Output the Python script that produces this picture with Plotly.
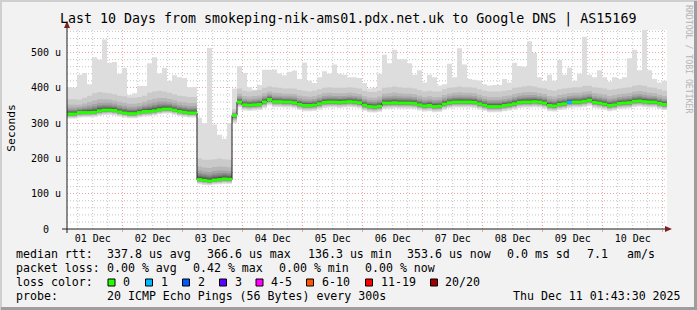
import datetime as dt
import plotly.graph_objects as go

# ---------------- data ----------------
# median rtt per 2-hour bin, microseconds, starting Dec 1 01:43:30
median_us = [326, 326, 330, 330, 330, 331, 335, 337, 337, 336,
             332, 329, 327, 327, 330, 333, 333, 335, 338, 340,
             340, 337, 333, 331, 329, 329, 140, 138, 136, 139,
             140, 142, 141, 322, 360, 352, 351, 352, 353, 360,
             367, 361, 361, 360, 360, 358, 353, 350, 350, 351,
             355, 359, 360, 360, 359, 360, 361, 360, 358, 351,
             347, 346, 348, 357, 357, 358, 357, 357, 357, 356,
             352, 349, 350, 347, 348, 354, 358, 360, 360, 360,
             360, 359, 355, 351, 347, 347, 347, 350, 352, 355,
             359, 360, 360, 361, 360, 357, 350, 349, 353, 355,
             359, 360, 360, 362, 365, 359, 357, 354, 350, 352,
             356, 357, 358, 362, 363, 361, 360, 360, 356, 353]

# slowest ping of each bin (top of the light smoke)
smoke_max_us = [402, 400, 437, 442, 410, 487, 480, 537, 471, 473,
                440, 456, 380, 385, 405, 405, 470, 487, 441, 456,
                420, 436, 430, 428, 402, 402, 315, 300, 513, 296,
                267, 256, 300, 398, 461, 442, 402, 395, 408, 451,
                451, 452, 441, 436, 446, 449, 425, 472, 420, 414,
                430, 447, 440, 466, 440, 437, 430, 430, 428, 414,
                398, 400, 440, 494, 470, 508, 481, 481, 470, 437,
                450, 415, 437, 430, 407, 410, 468, 430, 512, 466,
                425, 423, 420, 410, 407, 408, 408, 425, 415, 471,
                462, 460, 532, 499, 430, 420, 437, 420, 479, 437,
                457, 420, 440, 545, 437, 430, 450, 430, 418, 430,
                425, 430, 484, 508, 450, 565, 450, 425, 415, 420]

# top of the medium-grey smoke
smoke_hi_us = [368, 368, 366, 372, 378, 385, 388, 386, 385, 382,
               378, 376, 372, 372, 374, 378, 386, 390, 392, 390,
               386, 382, 378, 376, 374, 374, 200, 196, 196, 198,
               200, 198, 196, 340, 398, 392, 390, 392, 394, 400,
               404, 402, 400, 398, 398, 398, 394, 392, 390, 392,
               396, 400, 402, 400, 400, 400, 402, 400, 398, 392,
               388, 388, 392, 400, 402, 404, 402, 400, 400, 398,
               394, 390, 392, 390, 390, 396, 400, 402, 404, 402,
               402, 400, 396, 392, 390, 390, 390, 392, 394, 400,
               402, 404, 406, 404, 400, 398, 394, 392, 396, 398,
               400, 402, 402, 406, 406, 402, 400, 398, 394, 396,
               398, 400, 402, 406, 408, 406, 402, 400, 396, 392]

# fastest ping of each bin (bottom of the smoke)
smoke_lo_us = [313, 313, 316, 317, 317, 318, 321, 323, 324, 322,
               319, 316, 314, 314, 317, 319, 320, 322, 325, 327,
               327, 324, 320, 318, 316, 316, 127, 125, 124, 126,
               127, 128, 128, 300, 344, 336, 335, 336, 337, 343,
               350, 345, 345, 344, 344, 342, 337, 334, 334, 335,
               339, 343, 344, 344, 343, 344, 345, 344, 342, 335,
               331, 330, 332, 340, 341, 342, 341, 341, 341, 340,
               336, 333, 334, 331, 332, 338, 342, 344, 344, 344,
               344, 343, 339, 335, 331, 331, 331, 334, 336, 339,
               343, 344, 344, 345, 344, 341, 334, 333, 337, 339,
               343, 344, 344, 346, 349, 343, 341, 338, 334, 336,
               340, 341, 342, 346, 347, 345, 344, 344, 340, 337]

# lost pings (of 20) per bin
loss_pings = [0] * 100 + [1] + [0] * 19

y_tick_vals = [0, 100, 200, 300, 400, 500]
y_tick_text = ["0\u00a0\u00a0", "100 u", "200 u", "300 u", "400 u", "500 u"]
y_minor_vals = [20, 40, 60, 80, 120, 140, 160, 180, 220, 240, 260, 280,
                320, 340, 360, 380, 420, 440, 460, 480, 520, 540, 560]

loss_labels = ["0", "1", "2", "3", "4-5", "6-10", "11-19", "20/20"]
loss_colors = ["#26ff00", "#00b8ff", "#0059ff", "#5e00ff", "#ff00ff", "#ff5500", "#ff0000", "#a10000"]
loss_upper = [0, 1, 2, 3, 5, 10, 19, 20]

title_text = "Last 10 Days from smokeping-nik-ams01.pdx.net.uk to Google DNS | AS15169"
end_time = dt.datetime(2025, 12, 11, 1, 43, 30)
start_time = end_time - dt.timedelta(days=10)
bin_hours = 2

legend_rows = [
    [(16, "median rtt:"), (107.3, "337.8 us avg"), (207.3, "366.6 us max"),
     (307.5, "136.3 us min"), (406.7, "353.6 us now"), (506.7, "0.0 ms sd"),
     (586.7, "7.1"), (627.3, "am/s")],
    [(16, "packet loss:"), (107.3, "0.00 % avg"), (193.3, "0.42 % max"),
     (279.3, "0.00 % min"), (365, "0.00 % now")],
    [(16, "loss color:")],
    [(16, "probe:"), (107.3, "20 ICMP Echo Pings (56 Bytes) every 300s"),
     (513.3, "Thu Dec 11 01:43:30 2025")],
]
legend_row_y = [254.3, 268.3, 282.3, 296.2]
loss_box_left = [108, 145.5, 182.5, 219.5, 256, 306.5, 365.5, 430.5]

# ---------------- geometry / style ----------------
W, H = 697, 310
ML, MR, MT, MB = 67, 30, 30, 81
PW = W - ML - MR
PH = H - MT - MB
FONT = "DejaVu Sans Mono"


def pxx(x):
    return (x - ML) / PW


def pxy(y):
    return (H - MB - y) / PH


n = len(median_us)
times = [start_time + dt.timedelta(hours=bin_hours * i) for i in range(n + 1)]


def stepped(vals):
    return list(vals) + [vals[-1]]


fig = go.Figure()

# smoke: nested bands, outermost light, innermost dark
shades = ["#dddddd", "#cacaca", "#b7b7b7", "#a4a4a4", "#919191",
          "#7e7e7e", "#6b6b6b", "#585858", "#454545", "#323232"]
upper_frac = [None, 1.0, 0.62, 0.43, 0.31, 0.23, 0.17, 0.12, 0.08, 0.04]
lower_frac = [0.0, 0.25, 0.42, 0.56, 0.66, 0.74, 0.81, 0.87, 0.92, 0.96]

for k, col in enumerate(shades):
    if upper_frac[k] is None:
        up = smoke_max_us
    else:
        up = [m + upper_frac[k] * (h - m) for m, h in zip(median_us, smoke_hi_us)]
    lo = [l + lower_frac[k] * (m - l) for l, m in zip(smoke_lo_us, median_us)]
    fig.add_trace(go.Scatter(x=times, y=stepped(lo), mode="lines",
                             line=dict(width=0, shape="hv"), hoverinfo="skip"))
    fig.add_trace(go.Scatter(x=times, y=stepped(up), mode="lines", fill="tonexty",
                             fillcolor=col, line=dict(width=0, shape="hv"),
                             hoverinfo="skip"))

# dark median line
fig.add_trace(go.Scatter(x=times, y=stepped(median_us), mode="lines",
                         line=dict(color="#1f1f1f", width=1, shape="hv"),
                         hoverinfo="skip"))

# loss-coloured median band
for ci, col in enumerate(loss_colors):
    xs, ys = [], []
    for i in range(n):
        lp = loss_pings[i]
        idx = next(j for j, u in enumerate(loss_upper) if lp <= u)
        if idx == ci:
            xs += [times[i], times[i + 1], None]
            ys += [median_us[i], median_us[i], None]
    if xs:
        fig.add_trace(go.Scatter(x=xs, y=ys, mode="lines",
                                 line=dict(color=col, width=3), hoverinfo="skip"))

grid_minor = "#c4c4c4"
grid_major = "#eba3a3"
GRID_DASH = "1px,2px"

fig.update_xaxes(
    type="date", range=[start_time, end_time],
    tick0="2025-12-01", dtick=86400000, ticklabelmode="period", tickformat="%d %b",
    showgrid=True, gridcolor=grid_major, griddash=GRID_DASH, gridwidth=1,
    ticks="outside", ticklen=2, tickcolor=grid_major,
    tickfont=dict(family=FONT, size=10, color="black"), ticklabelstandoff=-2,
    showline=False, zeroline=False, fixedrange=True,
)
fig.update_yaxes(
    range=[0, 564], tickmode="array", tickvals=y_tick_vals, ticktext=y_tick_text,
    showgrid=True, gridcolor=grid_major, griddash=GRID_DASH, gridwidth=1,
    ticks="outside", ticklen=3, tickcolor="rgba(0,0,0,0)",
    tickfont=dict(family=FONT, size=10, color="black"),
    showline=False, zeroline=False, fixedrange=True,
)

shapes = []
# minor grid (every 6 hours / every 20 u)
day0 = dt.datetime(2025, 12, 1)
for h in range(6, 24 * 11, 6):
    if h % 24 == 0:
        continue
    t = day0 + dt.timedelta(hours=h)
    if start_time < t < end_time:
        shapes.append(dict(type="line", xref="x", yref="paper", x0=t, x1=t, y0=0, y1=1,
                           line=dict(color=grid_minor, width=1, dash=GRID_DASH), layer="below"))
for v in y_minor_vals:
    shapes.append(dict(type="line", xref="paper", yref="y", x0=0, x1=1, y0=v, y1=v,
                       line=dict(color=grid_minor, width=1, dash=GRID_DASH), layer="below"))
# 3D frame
shapes.append(dict(type="rect", xref="paper", yref="paper", x0=pxx(0), x1=pxx(W), y0=pxy(0), y1=pxy(2),
                   fillcolor="#cfcfcf", line=dict(width=0), layer="above"))
shapes.append(dict(type="rect", xref="paper", yref="paper", x0=pxx(0), x1=pxx(2), y0=pxy(0), y1=pxy(H),
                   fillcolor="#cfcfcf", line=dict(width=0), layer="above"))
shapes.append(dict(type="rect", xref="paper", yref="paper", x0=pxx(W - 3), x1=pxx(W), y0=pxy(1), y1=pxy(H),
                   fillcolor="#9e9e9e", line=dict(width=0), layer="above"))
shapes.append(dict(type="rect", xref="paper", yref="paper", x0=pxx(1), x1=pxx(W), y0=pxy(H - 3), y1=pxy(H),
                   fillcolor="#9e9e9e", line=dict(width=0), layer="above"))
# axes
shapes.append(dict(type="line", xref="paper", yref="paper", x0=pxx(62), x1=pxx(667), y0=0, y1=0,
                   line=dict(color="#1f1f1f", width=1), layer="above"))
shapes.append(dict(type="line", xref="paper", yref="paper", x0=0, x1=0, y0=pxy(233), y1=pxy(25),
                   line=dict(color="#1f1f1f", width=1), layer="above"))
# arrows
shapes.append(dict(type="path", xref="paper", yref="paper",
                   path=f"M {pxx(665)} {pxy(226)} L {pxx(672)} {pxy(229)} L {pxx(665)} {pxy(232)} Z",
                   fillcolor="#801f1f", line=dict(width=0), layer="above"))
shapes.append(dict(type="path", xref="paper", yref="paper",
                   path=f"M {pxx(64)} {pxy(28)} L {pxx(67)} {pxy(21)} L {pxx(70)} {pxy(28)} Z",
                   fillcolor="#801f1f", line=dict(width=0), layer="above"))
# loss colour boxes
for left, col in zip(loss_box_left, loss_colors):
    shapes.append(dict(type="rect", xref="paper", yref="paper", x0=pxx(left), x1=pxx(left + 7),
                       y0=pxy(286), y1=pxy(279), fillcolor=col,
                       line=dict(color="black", width=1), layer="above"))

ann = []
ann.append(dict(text=title_text, xref="paper", yref="paper", x=pxx(348), y=pxy(19),
                xanchor="center", yanchor="middle", showarrow=False,
                font=dict(family=FONT, size=13.3, color="black")))
ann.append(dict(text="Seconds", xref="paper", yref="paper", x=pxx(10.7), y=pxy(128),
                xanchor="center", yanchor="middle", showarrow=False, textangle=-90,
                font=dict(family=FONT, size=11.3, color="black")))
ann.append(dict(text="RRDTOOL / TOBI OETIKER", xref="paper", yref="paper", x=pxx(689), y=pxy(59),
                xanchor="center", yanchor="middle", showarrow=False, textangle=90,
                font=dict(family=FONT, size=8.2, color="#b5b5b5")))
for row, yy in zip(legend_rows, legend_row_y):
    for xx, txt in row:
        ann.append(dict(text=txt, xref="paper", yref="paper", x=pxx(xx - 2), y=pxy(yy),
                        xanchor="left", yanchor="middle", showarrow=False,
                        font=dict(family=FONT, size=11.6, color="black")))
for left, lab in zip(loss_box_left, loss_labels):
    ann.append(dict(text=lab, xref="paper", yref="paper", x=pxx(left + 15 - 2), y=pxy(282.3),
                    xanchor="left", yanchor="middle", showarrow=False,
                    font=dict(family=FONT, size=11.6, color="black")))

fig.update_layout(
    width=W, height=H, margin=dict(l=ML, r=MR, t=MT, b=MB, pad=0),
    paper_bgcolor="#f2f2f2", plot_bgcolor="#ffffff", showlegend=False,
    shapes=shapes, annotations=ann,
    font=dict(family=FONT, color="black"),
)

fig.write_html("out.html", config={"displayModeBar": False})
